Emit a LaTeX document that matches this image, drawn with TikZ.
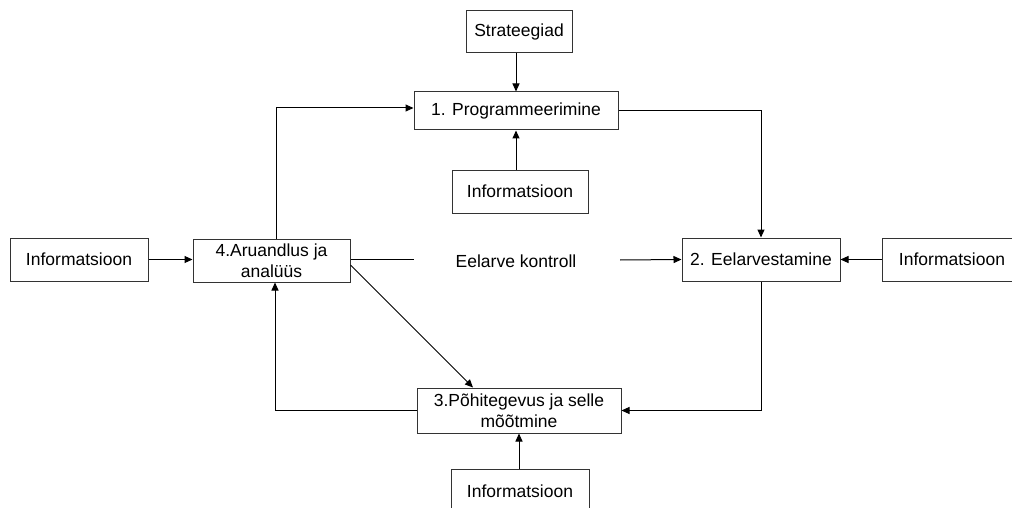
\documentclass[tikz,border=0pt]{standalone}
\usepackage{fontspec}
\setmainfont{Liberation Sans}
\usetikzlibrary{arrows.meta}

\tikzset{
  stepbox/.style={draw=black!80, line width=1pt, inner sep=0pt, align=center,
    font=\fontsize{17.5}{21}\selectfont},
  arr/.style={line width=1pt, -{Triangle[length=8pt,width=7pt]}},
  ln/.style={line width=1pt}
}

\begin{document}
\begin{tikzpicture}[x=1pt,y=-1pt]
\useasboundingbox (0,0) rectangle (1012,508);
\clip (0,0) rectangle (1012,508);

% process boxes
\node[stepbox, minimum width=106, minimum height=42] (strat) at (519,32) {Strateegiad};
\node[stepbox, minimum width=204, minimum height=38] (prog) at (516,111) {1. Programmeerimine};
\node[stepbox, minimum width=136, minimum height=43] (infoT) at (520,191.5) {Informatsioon};
\node[stepbox, minimum width=138, minimum height=43] (infoL) at (79,259.5) {Informatsioon};
\node[stepbox, minimum width=157, minimum height=43] (aru) at (271.5,260.5) {4.Aruandlus ja\\analüüs};
\node[stepbox, minimum width=158, minimum height=43] (eelarv) at (761,259.5) {2. Eelarvestamine};
\node[stepbox, minimum width=140, minimum height=43, text width=128] (infoR) at (952,259.5) {Informatsioon};
\node[stepbox, minimum width=204, minimum height=45] (pohi) at (519,410.5) {3.Põhitegevus ja selle\\mõõtmine};
\node[stepbox, minimum width=138, minimum height=44] (infoB) at (520,491) {Informatsioon};
\node[font=\fontsize{17.5}{21}\selectfont] (ctrl) at (516,261) {Eelarve kontroll};

% free ends of the control line
\coordinate (ctrlA) at (414,259);
\coordinate (ctrlB) at (620,260);

% connectors
\draw[arr] (strat.south -| prog.north) -- (prog.north);
\draw[arr] (infoT.north -| prog.south) -- (prog.south);
\draw[arr] ([xshift=4.5pt]aru.north) |- ([yshift=3pt]prog.west);
\draw[arr] (prog.east) -| (eelarv.north);
\draw[arr] (eelarv.south) |- (pohi.east);
\draw[arr] (pohi.west) -| ([xshift=3.5pt]aru.south);
\draw[arr] ([yshift=-4.5pt]aru.east) -- ([xshift=-46pt]pohi.north);
\draw[arr] (infoL.east) -- (aru.west |- infoL.east);
\draw[arr] (infoR.west) -- (eelarv.east);
\draw[arr] (infoB.north -| pohi.south) -- (pohi.south);
\draw[ln] ([yshift=1.5pt]aru.east) -- (ctrlA);
\draw[arr] (ctrlB) -- (eelarv.west);
\end{tikzpicture}
\end{document}
